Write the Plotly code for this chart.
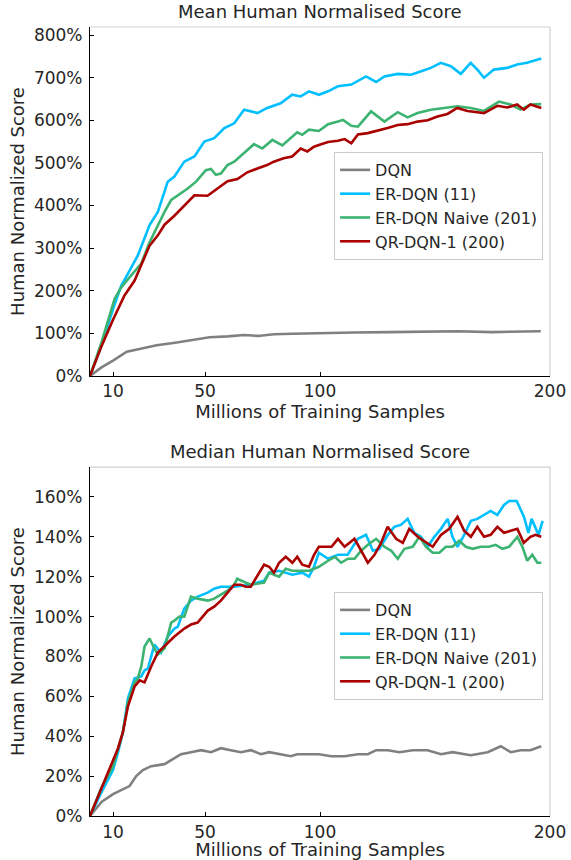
import plotly.graph_objects as go

# ---------------- data ----------------
series_names = ["DQN", "ER-DQN (11)", "ER-DQN Naive (201)", "QR-DQN-1 (200)"]
series_colors = ["#808080", "#00BFFF", "#3CB371", "#AA0000"]

x_ticks = [10, 50, 100, 200]
mean_y_ticks = [0, 100, 200, 300, 400, 500, 600, 700, 800]
median_y_ticks = [0, 20, 40, 60, 80, 100, 120, 140, 160]
mean_y_labels = [f"{v}%" for v in mean_y_ticks]
median_y_labels = [f"{v}%" for v in median_y_ticks]

# Mean human normalised score (%)
mean_dqn_x = [0, 5, 10, 16, 22, 29, 37, 45, 52, 60, 67, 73, 80, 88, 100, 115, 130, 145, 160, 175, 186, 196]
mean_dqn_y = [0, 20, 36, 57, 64, 72, 78, 85, 91, 93, 96, 94, 98, 99, 101, 102, 103, 104, 105, 103, 104, 105]

mean_er_x = [0, 5, 10, 13.6, 16.5, 20.8, 25.9, 29.5, 33.8, 36.7, 41, 45.4, 49.7, 54, 58.4, 62.7, 67,
             72.8, 77, 82.9, 87.9, 91.6, 95.2, 99.5, 103.5, 107.8, 113.6, 116.5, 120, 124.4, 128, 133.8,
             139.6, 144, 148.2, 152.5, 156.9, 161.2, 165.5, 168.4, 171.3, 175.6, 181.4, 185.7, 190, 196.2]
mean_er_y = [0, 72, 157, 212, 240, 283, 354, 385, 456, 468, 503, 515, 550, 558, 582, 593, 625,
             617, 629, 640, 660, 656, 668, 660, 668, 680, 684, 692, 703, 690, 703, 709,
             707, 715, 723, 735, 727, 709, 735, 719, 700, 719, 723, 731, 735, 745]

mean_naive_x = [0, 5, 10.7, 13.6, 17.9, 22.2, 25.9, 29.5, 32.4, 35.3, 39.6, 42.5, 46.1, 50.4, 52.6, 54.7,
                56.9, 59.8, 62.7, 67, 71.3, 74.9, 79.3, 83.6, 87.2, 90.1, 92.3, 95.2, 99.5, 103.5, 107.8,
                110, 113.6, 116.5, 122.2, 128, 133.8, 138.1, 142.4, 148.2, 154, 159.7, 165.5, 171.3,
                177.8, 182.9, 187.2, 191.5, 196.2]
mean_naive_y = [0, 79, 181, 208, 236, 263, 314, 354, 385, 413, 428, 440, 456, 483, 486, 472,
                475, 495, 503, 523, 544, 534, 554, 541, 558, 572, 566, 578, 575, 591, 597,
                601, 587, 585, 621, 597, 619, 607, 617, 625, 629, 633, 629, 622,
                644, 637, 625, 637, 638]

mean_qr_x = [0, 5, 10, 15, 19.4, 22.2, 25.9, 29.5, 32.4, 36.7, 41, 45.4, 51.1, 55.4, 59.8, 64.1, 68.4,
             72.8, 77, 79.9, 84.2, 87.9, 91.6, 94.5, 97.4, 99.5, 103.5, 107.8, 110.7, 113.6, 116.5,
             120.8, 125, 129.4, 133.8, 138.1, 142.4, 146.8, 151.1, 155.4, 159.7, 164.1, 168.4, 171.3,
             177.1, 181.4, 185.7, 188.6, 191.5, 196.2]
mean_qr_y = [0, 70, 132, 189, 224, 259, 306, 330, 355, 376, 401, 424, 423, 440, 457, 462, 478,
             487, 495, 503, 511, 515, 534, 527, 538, 542, 549, 552, 556, 546, 567,
             570, 575, 582, 589, 591, 597, 600, 609, 615, 629, 622, 619, 617,
             634, 630, 637, 625, 637, 629]

# Median human normalised score (%)
median_dqn_x = [0, 5, 10, 13.6, 17.2, 20.1, 23, 26.6, 32.4, 35.3, 39.6, 43.9, 48.3, 52.6, 56.9, 61.2, 65.6,
                70, 74.3, 77.9, 82.9, 87.3, 90.1, 95.2, 99.5, 105, 110.7, 116.5, 120.8, 124.4, 129.5,
                134.5, 140.3, 146.8, 152.6, 157.6, 165.6, 172.9, 178.6, 183, 187.2, 191.5, 196.2]
median_dqn_y = [0, 7, 11, 13, 15, 20, 23, 25, 26, 28, 31, 32, 33, 32, 34, 33, 32,
                33, 31, 32, 31, 30, 31, 31, 31, 30, 30, 31, 31, 33, 33,
                32, 33, 33, 31, 32, 30.5, 32, 35, 32, 33, 33, 35]

median_er_x = [0, 5, 10, 12.2, 14.3, 16.5, 19.4, 22.3, 23.7, 25.2, 28, 30.9, 33.8, 36.7, 38.2, 41, 43.9,
               46.8, 51.2, 54, 56.9, 62.7, 69.9, 75.7, 77.9, 82.2, 88, 92.3, 95.2, 97.4, 99.5, 103.5,
               107.8, 112, 116.5, 120, 123, 125.8, 129.5, 132.3, 135.2, 138.1, 141, 143.9, 146.8,
               149.7, 152.6, 155.5, 157.6, 159.8, 162.7, 165.6, 168.4, 171.3, 174.2, 177.1, 180,
               182.2, 185.5, 188.7, 190.6, 192, 195, 196.8]
median_er_y = [0, 12, 23, 32, 42, 59, 69, 70, 73, 74, 86, 82, 90, 94, 95, 104, 108,
               110, 112, 114, 115, 115, 116, 118, 122, 123, 121, 122, 120, 125, 132, 129,
               131, 131, 139, 141, 133, 134, 141, 145, 146, 149, 142, 140, 135,
               140, 144, 149, 140, 135, 141, 148, 149, 151, 153, 151, 156,
               158, 158, 150, 142, 149, 141, 148]

median_naive_x = [0, 4.9, 10, 14.3, 16.5, 19.4, 20.8, 22.3, 23.7, 25.9, 28, 29.5, 32.4, 35.3, 36.7, 38.9,
                  41, 43.9, 46.8, 51.2, 54, 56.9, 59.8, 62.7, 64, 67.8, 69.9, 75.7, 77.9, 82.2, 85.1,
                  88, 92.3, 95.2, 97.4, 99.5, 103.5, 106.4, 109.2, 112.1, 115, 117.9, 120.8, 124.4,
                  128, 131, 133.8, 136.7, 140.3, 143.2, 146.1, 149, 151.9, 154.7, 157.6, 160.5, 163.4,
                  166.3, 169.9, 173.5, 176.4, 179.3, 182.2, 185.8, 188, 190.1, 192.3, 194.5, 196.2]
median_naive_y = [0, 14, 25, 42, 57, 67, 69, 75, 85, 89, 84, 81, 84, 97, 98, 100,
                  100, 110, 109, 108, 109, 111, 113, 116, 119, 117, 116, 117, 122, 120, 124,
                  123, 123, 123, 124, 125, 128, 130, 127, 129, 129, 133, 136, 139,
                  135, 133, 129, 134, 135, 140, 135, 132, 132, 135, 135, 138, 135,
                  134, 135, 135, 136, 134, 135, 140, 135, 128, 131, 127, 127]

median_qr_x = [0, 4.9, 10, 12.2, 14.3, 16.5, 19.4, 21.6, 23.7, 26.6, 29.5, 33.8, 36.7, 41, 43.9, 46.8,
               51.2, 54, 56.9, 59.8, 62.7, 65.6, 67.8, 69.9, 72.1, 75.7, 77.9, 80, 82.2, 85.1, 88,
               90.1, 92.3, 95.2, 97.4, 99.5, 102, 105, 107.8, 110.7, 115, 117.9, 120.8, 123.7, 126.6,
               129.4, 133.1, 136, 138.8, 142.5, 146.1, 149, 152.6, 156.2, 159.8, 162.7, 165.6, 168.4,
               171.3, 174.2, 177.1, 180, 182.9, 185.8, 188.6, 191.5, 193.7, 196.2]
median_qr_y = [0, 14, 28, 34, 42, 55, 65, 68, 67, 75, 82, 87, 90, 94, 96, 97,
               103, 105, 108, 112, 116, 116, 115, 115, 119, 126, 125, 122, 127, 130, 127,
               130, 126, 125, 131, 135, 135, 135, 139, 135, 139, 133, 127, 131, 137,
               145, 139, 137, 144, 140, 137, 135, 141, 144, 150, 143, 140, 145,
               140, 141, 145, 142, 143, 144, 137, 140, 141, 140]

mean_series = [(mean_dqn_x, mean_dqn_y), (mean_er_x, mean_er_y),
               (mean_naive_x, mean_naive_y), (mean_qr_x, mean_qr_y)]
median_series = [(median_dqn_x, median_dqn_y), (median_er_x, median_er_y),
                 (median_naive_x, median_naive_y), (median_qr_x, median_qr_y)]

# ---------------- figure ----------------
FONT = "DejaVu Sans"
TXT = "#262626"
fig = go.Figure()

for i, (xs, ys) in enumerate(mean_series):
    fig.add_trace(go.Scatter(x=xs, y=ys, mode="lines", name=series_names[i],
                             line=dict(color=series_colors[i], width=2.6),
                             xaxis="x", yaxis="y", legend="legend"))
for i, (xs, ys) in enumerate(median_series):
    fig.add_trace(go.Scatter(x=xs, y=ys, mode="lines", name=series_names[i],
                             line=dict(color=series_colors[i], width=2.6),
                             xaxis="x2", yaxis="y2", legend="legend2"))

axis_common = dict(showline=True, linecolor="black", linewidth=1.2, showgrid=False, zeroline=False,
                   ticks="inside", ticklen=4, tickwidth=1, tickcolor="black",
                   tickfont=dict(family=FONT, size=17, color=TXT), automargin=False)

top_dom = [0.5577, 1.0]
bot_dom = [0.0, 0.4423]
title_font = dict(size=18, family=FONT, color=TXT)

fig.update_layout(
    width=571, height=860,
    margin=dict(l=90, r=21, t=27, b=44),
    paper_bgcolor="white", plot_bgcolor="white",
    font=dict(family=FONT, color=TXT),
    xaxis=dict(axis_common, domain=[0, 1], range=[0, 200], tickmode="array", tickvals=x_ticks,
               anchor="y", title=dict(text="Millions of Training Samples", font=title_font, standoff=2)),
    yaxis=dict(axis_common, domain=top_dom, range=[0, 819], tickmode="array", tickvals=mean_y_ticks,
               ticktext=mean_y_labels, anchor="x", ticklabelstandoff=3,
               title=dict(text="Human Normalized Score", font=title_font, standoff=4)),
    xaxis2=dict(axis_common, domain=[0, 1], range=[0, 200], tickmode="array", tickvals=x_ticks,
                anchor="y2", title=dict(text="Millions of Training Samples", font=title_font, standoff=2)),
    yaxis2=dict(axis_common, domain=bot_dom, range=[0, 175], tickmode="array", tickvals=median_y_ticks,
                ticktext=median_y_labels, anchor="x2", ticklabelstandoff=3,
                title=dict(text="Human Normalized Score", font=title_font, standoff=4)),
    legend=dict(x=0.985, y=0.8416, xanchor="right", yanchor="top", bgcolor="white",
                bordercolor="#cccccc", borderwidth=1, font=dict(family=FONT, size=16, color=TXT)),
    legend2=dict(x=0.985, y=0.2839, xanchor="right", yanchor="top", bgcolor="white",
                 bordercolor="#cccccc", borderwidth=1, font=dict(family=FONT, size=16, color=TXT)),
    showlegend=True,
)

# light top/right frame lines
for xr, yr in [("x domain", "y domain"), ("x2 domain", "y2 domain")]:
    fig.add_shape(type="line", xref=xr, yref=yr, x0=0, x1=1, y0=1, y1=1,
                  line=dict(color="#d0d0d0", width=1.2), layer="below")
    fig.add_shape(type="line", xref=xr, yref=yr, x0=1, x1=1, y0=0, y1=1,
                  line=dict(color="#d0d0d0", width=1.2), layer="below")

# subplot titles
fig.add_annotation(text="Mean Human Normalised Score", xref="x domain", yref="y domain", x=0.5, y=1,
                   yanchor="bottom", yshift=3, showarrow=False, font=title_font)
fig.add_annotation(text="Median Human Normalised Score", xref="x2 domain", yref="y2 domain", x=0.5, y=1,
                   yanchor="bottom", yshift=3, showarrow=False, font=title_font)

fig.write_html("out.html", config={"displayModeBar": False},
               post_script=["document.body.style.margin='0';document.body.style.overflow='hidden';"])
